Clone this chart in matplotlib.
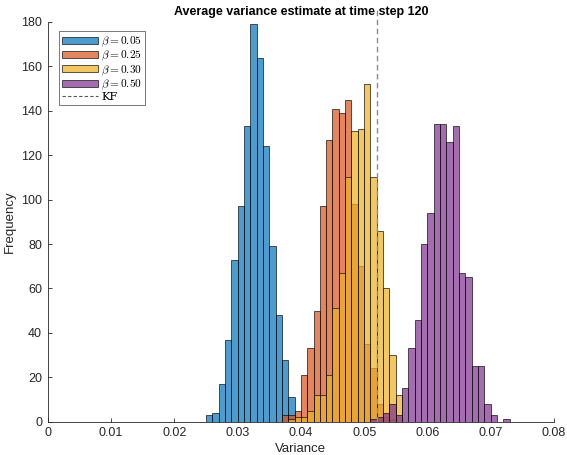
import matplotlib

matplotlib.use("Agg")

import matplotlib.pyplot as plt
import numpy as np
from matplotlib.colors import to_rgba
from matplotlib.lines import Line2D
from matplotlib.patches import Patch

BIN_W = 0.001

# counts per bin, bins start at *_start and are BIN_W wide
blue_start = 0.025
blue_counts = [3, 4, 17, 37, 73, 97, 133, 179, 164, 124, 79, 48, 28, 11]

orange_start = 0.037
orange_counts = [3, 3, 5, 21, 33, 50, 97, 127, 141, 139, 145, 98, 70, 35, 24, 8, 2, 1]

yellow_start = 0.038
yellow_counts = [1, 2, 2, 5, 12, 12, 21, 51, 67, 110, 131, 132, 152, 110, 86, 60, 30, 12]

purple_start = 0.051
purple_counts = [1, 2, 4, 8, 3, 15, 33, 46, 80, 94, 134, 134, 126, 133, 67, 65,
                 25, 25, 8, 3, 0, 1]

kf_value = 0.052

series = [
    (blue_start, blue_counts, "#0072BD", r"$\beta = 0.05$"),
    (orange_start, orange_counts, "#D95319", r"$\beta = 0.25$"),
    (yellow_start, yellow_counts, "#EDB120", r"$\beta = 0.30$"),
    (purple_start, purple_counts, "#7E2F8E", r"$\beta = 0.50$"),
]

plt.rcParams["font.family"] = ["Liberation Sans", "DejaVu Sans"]
plt.rcParams["mathtext.fontset"] = "cm"

axis_color = "#262626"

fig = plt.figure(figsize=(5.67, 4.55), dpi=100)
ax = fig.add_axes([0.0841, 0.0732, 0.893, 0.8785])

handles = []
for start, counts, color, label in series:
    lefts = start + BIN_W * np.arange(len(counts))
    ax.bar(
        lefts,
        counts,
        width=BIN_W,
        align="edge",
        facecolor=to_rgba(color, 0.7),
        edgecolor=(0, 0, 0, 0.75),
        linewidth=0.6,
    )
    handles.append(
        Patch(facecolor=to_rgba(color, 0.7), edgecolor=(0, 0, 0, 0.75),
              linewidth=0.6, label=label)
    )

ax.plot([kf_value, kf_value], [0, 186], color="#8c8c8c", linestyle="--",
        linewidth=1.0, dashes=(4, 2.5), clip_on=False)
handles.append(Line2D([], [], color="#555555", linestyle="--", linewidth=0.8,
                      dashes=(3, 2), label="KF"))

ax.set_xlim(0, 0.08)
ax.set_ylim(0, 180)
ax.set_xticks(np.arange(0, 0.081, 0.01))
ax.set_xticklabels(["0", "0.01", "0.02", "0.03", "0.04", "0.05", "0.06", "0.07", "0.08"])
ax.set_yticks(np.arange(0, 181, 20))

for side in ["top", "right"]:
    ax.spines[side].set_visible(False)
for side in ["left", "bottom"]:
    ax.spines[side].set_color(axis_color)
    ax.spines[side].set_linewidth(0.6)
ax.tick_params(direction="in", length=3, width=0.6, color=axis_color,
               labelcolor=axis_color, labelsize=9, pad=4)

ax.set_title("Average variance estimate at time step 120", fontsize=9,
             fontweight="bold", color="black", pad=5)
ax.set_xlabel("Variance", fontsize=9.5, color=axis_color, labelpad=3)
ax.set_ylabel("Frequency", fontsize=9.5, color=axis_color, labelpad=4)

leg = ax.legend(
    handles=handles,
    loc="upper left",
    bbox_to_anchor=(0.022, 0.977),
    prop={"family": "serif", "size": 8.2},
    handlelength=3.1,
    handleheight=0.6,
    handletextpad=0.3,
    labelspacing=0.0,
    borderpad=0.3,
    borderaxespad=0,
    fancybox=False,
    framealpha=1,
)
leg.get_frame().set_edgecolor("#444444")
leg.get_frame().set_linewidth(0.5)

fig.savefig("out.png", dpi=100)
